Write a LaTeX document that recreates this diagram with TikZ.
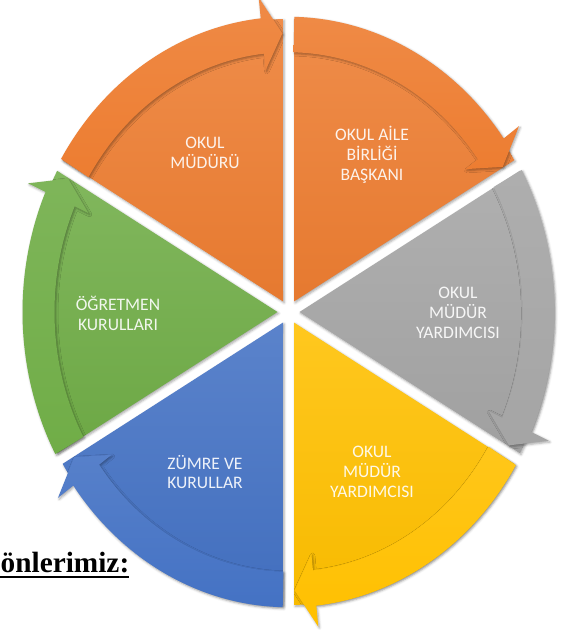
\documentclass[tikz,border=0pt]{standalone}
\usepackage{fontspec}
\setmainfont{Carlito}
\newfontfamily\headfont{Liberation Serif}
\usetikzlibrary{shadows.blur}
\definecolor{segorange}{HTML}{ED7D31}
\definecolor{seggray}{HTML}{A5A5A5}
\definecolor{segyellow}{HTML}{FFC000}
\definecolor{segblue}{HTML}{4472C4}
\definecolor{seggreen}{HTML}{70AD47}
\begin{document}
\begin{tikzpicture}[x=0.03cm, y=-0.03cm, line join=round,
    seglabel/.style={align=center, text=white, text opacity=.9, font=\fontsize{15}{17}\selectfont},
    segshadow/.style={blur shadow={shadow xshift=1pt, shadow yshift=-1.2pt, shadow opacity=35, shadow blur radius=2pt}}]
    \def\rout{264} \def\rin{234} \def\rarr{266} % radii
    \def\rhead{285} \def\rneck{219} \def\rtip{251}
    \useasboundingbox (0,0) rectangle (561,630);
    \node[anchor=base west, inner sep=0pt, font=\headfont\bfseries\fontsize{25}{30}\selectfont] (heading) at (0.5,572) {önlerimiz:};
    \draw[line width=1.7pt] ([yshift=-4pt]heading.base west) -- ([yshift=-4pt]heading.base east);
    \begin{scope}[shift={(288.5,312)}, yscale=-1.11]
        \foreach \a/\col in {150/segorange, 90/segorange, 30/seggray, -30/segyellow, -90/segblue, -150/seggreen}{
            \pgfmathsetmacro\segmid{\a-30}
            \pgfmathsetmacro\wedgelo{\a-58.8}
            \pgfmathsetmacro\wedgehi{\a-1.2}
            \pgfmathsetmacro\arrstart{\a-1.25}
            \pgfmathsetmacro\arrbase{\a-54}
            \pgfmathsetmacro\arrtip{\a-58.6}
            % wedge
            \path[segshadow, top color=\col!88!white, bottom color=\col!97!black]
                (\segmid:11) -- (\wedgelo:\rout) arc[start angle=\wedgelo, end angle=\wedgehi, radius=\rout] -- cycle;
            % arrow along the rim
            \path[segshadow, top color=\col!90!white, bottom color=\col]
                (\arrstart:\rarr) arc[start angle=\arrstart, end angle=\arrbase, radius=\rarr]
                -- (\arrbase:\rhead) -- (\arrtip:\rtip) -- (\arrbase:\rneck)
                -- (\arrbase:\rin) arc[start angle=\arrbase, end angle=\arrstart, radius=\rin] -- cycle;
        }
    \end{scope}
    \node[seglabel] (principal) at (205,153) {OKUL\\MÜDÜRÜ};
    \node[seglabel] (parents) at (372,155) {OKUL AİLE\\BİRLİĞİ\\BAŞKANI};
    \node[seglabel] (deputyA) at (458,313) {OKUL\\MÜDÜR\\YARDIMCISI};
    \node[seglabel] (deputyB) at (372,472) {OKUL\\MÜDÜR\\YARDIMCISI};
    \node[seglabel] (branches) at (205,472) {ZÜMRE VE\\KURULLAR};
    \node[seglabel] (teachers) at (118,313) {ÖĞRETMEN\\KURULLARI};
\end{tikzpicture}
\end{document}
